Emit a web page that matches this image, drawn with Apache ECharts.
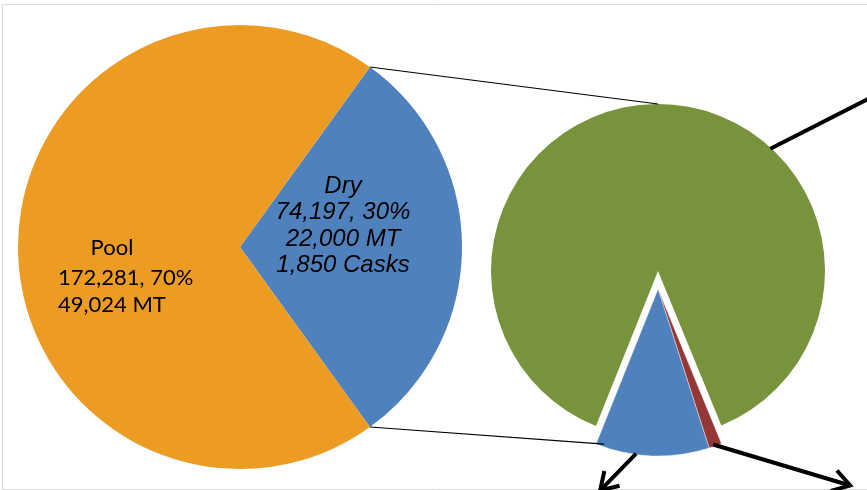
<!DOCTYPE html>
<html>
<head>
<meta charset="utf-8">
<script src="https://cdn.jsdelivr.net/npm/echarts@6/dist/echarts.min.js"></script>
<style>
  html, body { margin: 0; padding: 0; background: #fff; }
  #chart { width: 867px; height: 490px; }
</style>
</head>
<body>
<div id="chart"></div>
<script>
// Spent fuel inventory: pool vs. dry storage
const storageNames = ['Dry', 'Pool'];
const storageAssemblies = [74197, 172281];
const storageMT = [22000, 49024];
const dryCasks = 1850;
const storageColors = ['#4f81bd', '#ec9b23'];

// Breakdown of the dry storage share (percent of dry)
const dryNames = ['Segment C', 'Segment B', 'Segment A'];
const dryShares = [1.25, 11.0, 87.75];
const dryColors = ['#953735', '#4f81bd', '#77933c'];
const dryExploded = [true, true, false];

// Geometry of the two pies
const mainPie = { cx: 240, cy: 247, r: 222 };
const subPie = { cx: 658, cy: 271, r: 167, offset: 18 };

const fmt = n => n.toLocaleString('en-US');
const total = storageAssemblies.reduce((a, b) => a + b, 0);
const pct = i => Math.round(storageAssemblies[i] / total * 100) + '%';

// Dry slice is centred on 3 o'clock
const dryAngle = storageAssemblies[0] / total * 360;
const mainStart = dryAngle / 2;

// Sub pie starts at the right edge of the smallest segment
const subStart = 292.3;

const rad = d => d * Math.PI / 180;
function polar(c, r, deg) {
  return [c[0] + r * Math.cos(rad(deg)), c[1] - r * Math.sin(rad(deg))];
}

// angle spans of the sub pie slices
const subTotal = dryShares.reduce((a, b) => a + b, 0);
const spans = [];
let a0 = subStart;
dryShares.forEach(v => {
  const a1 = a0 - v / subTotal * 360;
  spans.push([a1, a0]);
  a0 = a1;
});

// the exploded slices move out together along their common bisector
let exLo = Infinity, exHi = -Infinity;
spans.forEach((s, i) => {
  if (dryExploded[i]) { exLo = Math.min(exLo, s[0]); exHi = Math.max(exHi, s[1]); }
});
const subC = [subPie.cx, subPie.cy];
const explodedC = polar(subC, subPie.offset, (exLo + exHi) / 2);
const sliceCenter = i => dryExploded[i] ? explodedC : subC;

// connector lines between the dry slice and the breakdown pie
const mc = [mainPie.cx, mainPie.cy];
const dryTop = polar(mc, mainPie.r, mainStart);
const dryBottom = polar(mc, mainPie.r, -mainStart);
const subTop = [subPie.cx, subPie.cy - subPie.r];
const blueCorner = polar(sliceCenter(1), subPie.r, spans[1][0]);

function arrowHead(tip, from, len, spread) {
  const ang = Math.atan2(from[1] - tip[1], from[0] - tip[0]);
  return [
    [tip[0] + len * Math.cos(ang + rad(spread)), tip[1] + len * Math.sin(ang + rad(spread))],
    tip,
    [tip[0] + len * Math.cos(ang - rad(spread)), tip[1] + len * Math.sin(ang - rad(spread))]
  ];
}

// pointer arrows leaving the breakdown slices
const arrows = [
  { start: polar(sliceCenter(1), subPie.r - 1, 262.4), dx: -36, dy: 37, head: true },
  { start: polar(sliceCenter(0), subPie.r - 2, 289.5), dx: 137, dy: 41, head: true },
  { start: polar(sliceCenter(2), subPie.r - 1, 47.4), dx: 110, dy: -56, head: false }
];

const graphics = [
  {
    type: 'rect', silent: true, z: 0,
    shape: { x: 2.5, y: 4.5, width: 870, height: 485 },
    style: { fill: null, stroke: '#d9d9d9', lineWidth: 1 }
  },
  {
    type: 'line', silent: true, z: 10,
    shape: { x1: dryTop[0], y1: dryTop[1], x2: subTop[0], y2: subTop[1] },
    style: { stroke: '#000', lineWidth: 1.2 }
  },
  {
    type: 'line', silent: true, z: 10,
    shape: { x1: dryBottom[0], y1: dryBottom[1], x2: blueCorner[0] + 8, y2: blueCorner[1] },
    style: { stroke: '#000', lineWidth: 1.2 }
  }
];

arrows.forEach(a => {
  const end = [a.start[0] + a.dx, a.start[1] + a.dy];
  graphics.push({
    type: 'line', silent: true, z: 10,
    shape: { x1: a.start[0], y1: a.start[1], x2: end[0], y2: end[1] },
    style: { stroke: '#000', lineWidth: 4 }
  });
  if (a.head) {
    graphics.push({
      type: 'polyline', silent: true, z: 10,
      shape: { points: arrowHead(end, a.start, 20, 32) },
      style: { stroke: '#000', lineWidth: 4, fill: null, lineJoin: 'miter' }
    });
  }
});

// slice labels
const poolLines = ['Pool', fmt(storageAssemblies[1]) + ', ' + pct(1), fmt(storageMT[1]) + ' MT'];
const poolFont = '22px Lato';
graphics.push({
  type: 'text', silent: true, z: 20,
  style: { text: poolLines[0], x: mainPie.cx - 128, y: mainPie.cy + 1, font: poolFont, fill: '#000', align: 'center', verticalAlign: 'middle' }
});
graphics.push({
  type: 'text', silent: true, z: 20,
  style: { text: poolLines.slice(1).join('\n'), x: mainPie.cx - 182, y: mainPie.cy + 17, font: poolFont, fill: '#000', align: 'left', verticalAlign: 'top', lineHeight: 27 }
});

const dryLines = ['Dry', fmt(storageAssemblies[0]) + ', ' + pct(0), fmt(storageMT[0]) + ' MT', fmt(dryCasks) + ' Casks'];
graphics.push({
  type: 'text', silent: true, z: 20,
  style: { text: dryLines.join('\n'), x: mainPie.cx + 103, y: mainPie.cy - 21, font: 'italic 24px "Liberation Sans"', fill: '#000', align: 'center', verticalAlign: 'middle', lineHeight: 26.5 }
});

// one breakdown layer: draws only the slices whose explode flag matches
function subLayer(exploded) {
  return {
    type: 'pie',
    silent: true,
    center: exploded ? explodedC : subC,
    radius: subPie.r,
    startAngle: subStart,
    clockwise: true,
    label: { show: false },
    labelLine: { show: false },
    data: dryNames.map((n, i) => ({
      name: n, value: dryShares[i],
      itemStyle: dryExploded[i] === exploded
        ? { color: dryColors[i], borderColor: exploded ? '#fff' : 'transparent', borderWidth: exploded ? 0.4 : 0 }
        : { color: 'transparent', borderWidth: 0 }
    }))
  };
}

const chart = echarts.init(document.getElementById('chart'), null, { renderer: 'canvas' });
chart.setOption({
  backgroundColor: '#fff',
  animation: false,
  series: [
    {
      type: 'pie',
      silent: true,
      center: [mainPie.cx, mainPie.cy],
      radius: mainPie.r,
      startAngle: mainStart,
      clockwise: true,
      label: { show: false },
      labelLine: { show: false },
      data: storageNames.map((n, i) => ({
        name: n, value: storageAssemblies[i], itemStyle: { color: storageColors[i] }
      }))
    },
    subLayer(false),
    subLayer(true)
  ],
  graphic: graphics
});
</script>
</body>
</html>
